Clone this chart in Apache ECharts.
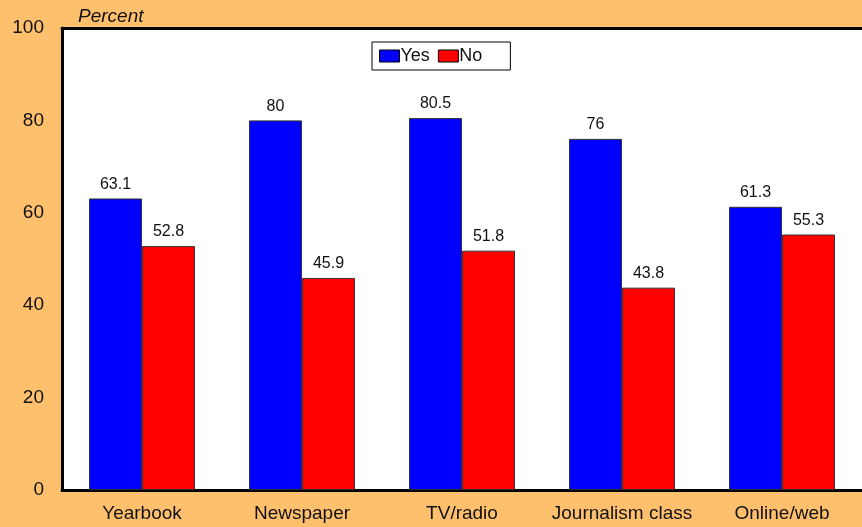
<!DOCTYPE html>
<html>
<head>
<meta charset="utf-8">
<script src="https://cdn.jsdelivr.net/npm/echarts@6/dist/echarts.min.js"></script>
<style>
html, body { margin: 0; padding: 0; background: #FEC06C; }
#main { width: 862px; height: 527px; }
</style>
</head>
<body>
<div id="main"></div>
<script>
var categories = ['Yearbook', 'Newspaper', 'TV/radio', 'Journalism class', 'Online/web'];
var yesValues = [63.1, 80, 80.5, 76, 61.3];
var noValues = [52.8, 45.9, 51.8, 43.8, 55.3];

var chart = echarts.init(document.getElementById('main'));
var labelStyle = {
    show: true,
    position: 'top',
    color: '#111',
    fontFamily: 'Liberation Sans, Arial',
    fontSize: 16,
    distance: 6
};
var option = {
    backgroundColor: '#FEC06C',
    animation: false,
    title: {
        text: 'Percent',
        left: 73,
        top: 2,
        textStyle: {
            fontFamily: 'Liberation Sans, Arial',
            fontStyle: 'italic',
            fontWeight: 'normal',
            fontSize: 19,
            color: '#111'
        }
    },
    legend: {
        top: 42,
        left: 372,
        backgroundColor: '#fff',
        borderColor: '#000',
        borderWidth: 1,
        padding: [5, 28, 5, 7],
        itemWidth: 20,
        itemHeight: 12,
        itemGap: 8,
        icon: 'rect',
        textStyle: {
            fontFamily: 'Liberation Sans, Arial',
            fontSize: 18,
            color: '#111',
            padding: [0, 0, 0, -4]
        },
        itemStyle: { borderColor: '#000', borderWidth: 1 },
        data: ['Yes', 'No']
    },
    grid: {
        left: 62,
        right: 0,
        top: 28,
        bottom: 37,
        show: true,
        backgroundColor: '#fff',
        borderWidth: 0
    },
    xAxis: [
        {
            type: 'category',
            data: categories,
            axisLine: { lineStyle: { color: '#000', width: 3 } },
            axisTick: { show: false },
            axisLabel: {
                interval: 0,
                color: '#111',
                fontFamily: 'Liberation Sans, Arial',
                fontSize: 19,
                margin: 14
            }
        },
        {
            type: 'category',
            position: 'top',
            data: categories,
            axisLine: { lineStyle: { color: '#000', width: 3 } },
            axisTick: { show: false },
            axisLabel: { show: false }
        }
    ],
    yAxis: {
        type: 'value',
        min: 0,
        max: 100,
        interval: 20,
        axisLine: { show: true, lineStyle: { color: '#000', width: 3 } },
        axisTick: { show: false },
        splitLine: { show: false },
        axisLabel: {
            color: '#111',
            fontFamily: 'Liberation Sans, Arial',
            fontSize: 19,
            margin: 18
        }
    },
    series: [
        {
            name: 'Yes',
            type: 'bar',
            data: yesValues,
            barGap: '0%',
            barCategoryGap: '33.75%',
            itemStyle: { color: '#0000FF', borderColor: '#333', borderWidth: 1 },
            label: labelStyle
        },
        {
            name: 'No',
            type: 'bar',
            data: noValues,
            itemStyle: { color: '#FF0000', borderColor: '#333', borderWidth: 1 },
            label: labelStyle
        }
    ]
};
chart.setOption(option);
</script>
</body>
</html>
